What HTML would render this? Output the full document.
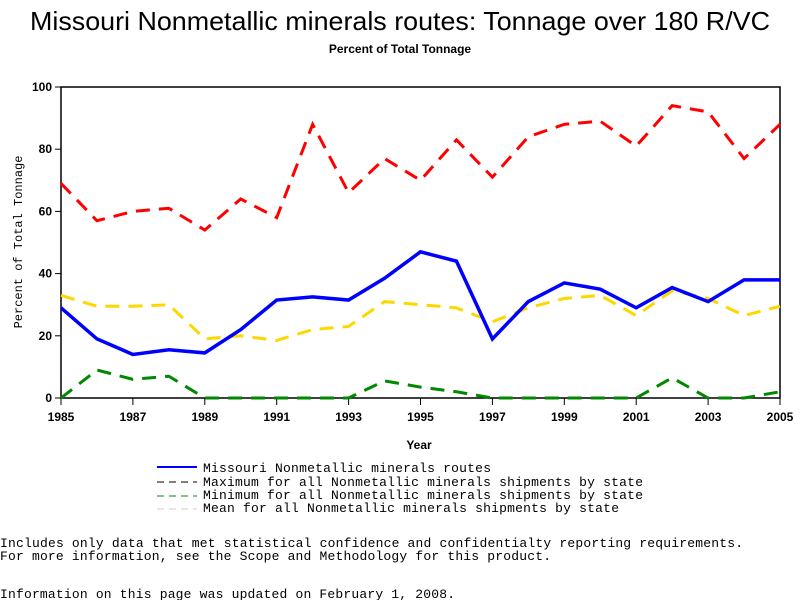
<!DOCTYPE html>
<html><head><meta charset="utf-8"><style>
body{margin:0;background:#fff;width:800px;height:600px;overflow:hidden}
text{font-family:"Liberation Sans",sans-serif}
.m{font-family:"Liberation Mono",monospace}
</style></head><body>
<svg id="c" width="800" height="600">
<text x="30" y="30" textLength="740" lengthAdjust="spacingAndGlyphs" font-size="26">Missouri Nonmetallic minerals routes: Tonnage over 180 R/VC</text>
<text x="400" y="53" text-anchor="middle" font-size="12" font-weight="bold">Percent of Total Tonnage</text>
<rect x="61" y="87" width="719" height="311" fill="none" stroke="#000" stroke-width="1.5"/>
<g id="axes"></g>
<g id="series"></g>
<text x="419" y="449" text-anchor="middle" font-size="12" font-weight="bold">Year</text>
<text transform="translate(22,242) rotate(-90)" text-anchor="middle" font-size="12" class="m">Percent of Total Tonnage</text>
<g class="m" font-size="13">
<line x1="157" y1="467" x2="197" y2="467" stroke="#00f" stroke-width="2"/>
<text x="203" y="472" textLength="288" class="m">Missouri Nonmetallic minerals routes</text>
<line x1="157" y1="482" x2="197" y2="482" stroke="#000" stroke-dasharray="7,5"/>
<text x="203" y="486" textLength="440" class="m">Maximum for all Nonmetallic minerals shipments by state</text>
<line x1="157" y1="496" x2="197" y2="496" stroke="#080" stroke-dasharray="7,5"/>
<text x="203" y="499" textLength="440" class="m">Minimum for all Nonmetallic minerals shipments by state</text>
<line x1="157" y1="509" x2="197" y2="509" stroke="#ccc" stroke-dasharray="7,5"/>
<text x="203" y="512" textLength="416" class="m">Mean for all Nonmetallic minerals shipments by state</text>
</g>
<text x="0" y="547" textLength="743" class="m" font-size="13">Includes only data that met statistical confidence and confidentialty reporting requirements.</text>
<text x="0" y="560" textLength="551" class="m" font-size="13">For more information, see the Scope and Methodology for this product.</text>
<text x="0" y="598" textLength="455" class="m" font-size="13">Information on this page was updated on February 1, 2008.</text>
</svg>
<script>
const years=[1985,1986,1987,1988,1989,1990,1991,1992,1993,1994,1995,1996,1997,1998,1999,2000,2001,2002,2003,2004,2005];
const routeVals=[29,19,14,15.5,14.5,22,31.5,32.5,31.5,38.5,47,44,19,31,37,35,29,35.5,31,38,38];
const maxVals=[69,57,60,61,54,64,58,88,66,77,70,83,71,84,88,89,81,94,92,77,88];
const minVals=[0,9,6,7,0,0,0,0,0,5.5,3.5,2,0,0,0,0,0,6.5,0,0,2];
const meanVals=[33,29.5,29.5,30,19,20,18.5,22,23,31,30,29,24.5,29,32,33,26.5,34.5,32,26.5,29.5];
const yTicks=[0,20,40,60,80,100];
const xTicks=[1985,1987,1989,1991,1993,1995,1997,1999,2001,2003,2005];
const NS="http://www.w3.org/2000/svg";
const X=v=>61+(v-1985)/20*719, Y=v=>398-v/100*311;
const ax=document.getElementById('axes'), sg=document.getElementById('series');
function mk(t,a,p){const e=document.createElementNS(NS,t);for(const k in a)e.setAttribute(k,a[k]);p.appendChild(e);return e;}
yTicks.forEach(v=>{
 const l=mk('line',{x1:55,x2:61,y1:Y(v),y2:Y(v),stroke:'#000'},ax);
 
 
 const t=mk('text',{x:52,y:Y(v)+4,'text-anchor':'end','font-size':12,'font-weight':'bold'},ax);t.textContent=v;
 
 
});
xTicks.forEach(v=>{
 const l=mk('line',{x1:X(v),x2:X(v),y1:398,y2:405,stroke:'#000'},ax);
 
 
 const t=mk('text',{x:X(v),y:421,'text-anchor':'middle','font-size':12,'font-weight':'bold'},ax);t.textContent=v;
 
 
});
function line(vals,color,w,dash,name){
 const p=mk('polyline',{points:vals.map((v,i)=>X(years[i])+','+Y(v)).join(' '),fill:'none',stroke:color,'stroke-width':w},sg);
 if(dash)p.setAttribute('stroke-dasharray',dash);
 
 
}
line(maxVals,'#f00',3,'14,9','max-line');
line(meanVals,'#ffd700',3,'14,9','mean-line');
line(minVals,'#080',3,'14,9','min-line');
line(routeVals,'#00f',3.5,null,'route-line');
</script>
</body></html>
